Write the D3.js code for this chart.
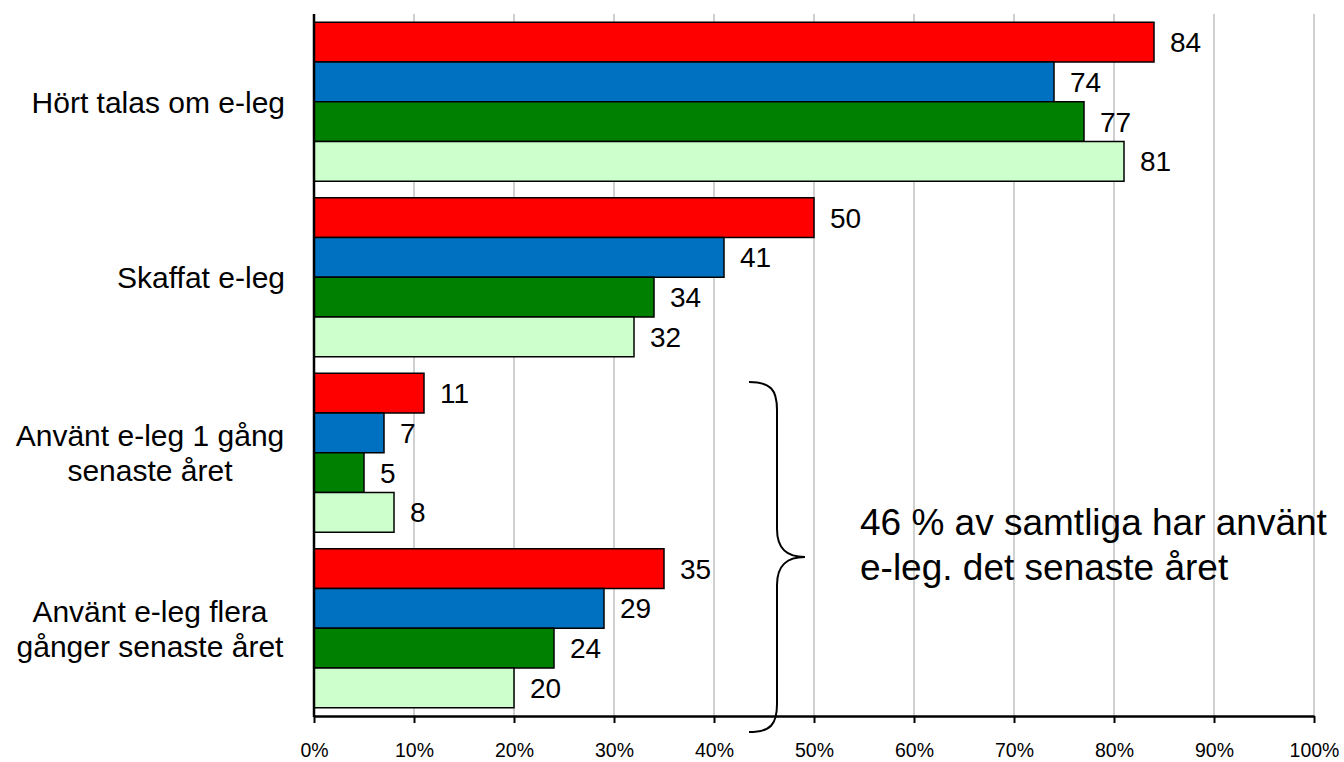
<!DOCTYPE html>
<html>
<head>
<meta charset="utf-8">
<script src="https://cdn.jsdelivr.net/npm/d3@7"></script>
<style>
  html, body { margin: 0; padding: 0; background: #fff; }
  svg { display: block; font-family: "Liberation Sans", Arial, sans-serif; }
</style>
</head>
<body>
<svg id="chart" width="1344" height="762"></svg>
<script>
// Categories (top to bottom), each may wrap to two lines
const categories = [
  ["Hört talas om e-leg"],
  ["Skaffat e-leg"],
  ["Använt e-leg 1 gång", "senaste året"],
  ["Använt e-leg flera", "gånger senaste året"]
];
const categoryKeys = categories.map(c => c.join(" "));

// Four series, drawn in this order within each category
const seriesNames = ["s1", "s2", "s3", "s4"];
const seriesColors = ["#ff0000", "#0070c0", "#008000", "#ccffcc"];
const series1 = [84, 50, 11, 35];
const series2 = [74, 41, 7, 29];
const series3 = [77, 34, 5, 24];
const series4 = [81, 32, 8, 20];
const seriesValues = [series1, series2, series3, series4];

const xTicks = [0, 10, 20, 30, 40, 50, 60, 70, 80, 90, 100];
const annotationLines = ["46 % av samtliga har använt", "e-leg. det senaste året"];

const svg = d3.select("#chart");
const plot = { left: 314, right: 1314, top: 14, bottom: 716 };

const x = d3.scaleLinear().domain([0, 100]).range([plot.left, plot.right]);
const y = d3.scaleBand().domain(categoryKeys).range([plot.top, plot.bottom])
  .paddingInner(0.094).paddingOuter(0.047);
const ySub = d3.scaleBand().domain(seriesNames).range([0, y.bandwidth()]);

// Vertical gridlines
svg.append("g")
  .selectAll("line")
  .data(xTicks.slice(1))
  .join("line")
  .attr("x1", d => x(d)).attr("x2", d => x(d))
  .attr("y1", plot.top).attr("y2", plot.bottom)
  .attr("stroke", "#c0c0c0").attr("stroke-width", 1.5);

// Bars
const groups = svg.append("g")
  .selectAll("g")
  .data(categoryKeys)
  .join("g")
  .attr("transform", d => `translate(0,${y(d)})`);

groups.each(function(cat, ci) {
  const g = d3.select(this);
  seriesNames.forEach((s, si) => {
    const v = seriesValues[si][ci];
    g.append("rect")
      .attr("x", x(0))
      .attr("y", ySub(s))
      .attr("width", x(v) - x(0))
      .attr("height", ySub.bandwidth())
      .attr("fill", seriesColors[si])
      .attr("stroke", "#000")
      .attr("stroke-width", 1.5);
    g.append("text")
      .attr("x", x(v) + 16)
      .attr("y", ySub(s) + ySub.bandwidth() / 2)
      .attr("dy", "0.36em")
      .attr("font-size", 28)
      .attr("fill", "#000")
      .text(v);
  });
});

// X axis with ticks below
const xAxis = d3.axisBottom(x).tickValues(xTicks).tickFormat(d => d + "%")
  .tickSize(7).tickSizeOuter(0).tickPadding(20);
const gx = svg.append("g")
  .attr("transform", `translate(0,${plot.bottom})`)
  .call(xAxis);
gx.select(".domain").attr("stroke", "#000").attr("stroke-width", 2.5);
gx.selectAll(".tick line").attr("stroke", "#000").attr("stroke-width", 2);
gx.selectAll(".tick text")
  .attr("font-size", 19.5)
  .attr("font-family", "'Liberation Sans', Arial, sans-serif")
  .attr("fill", "#000");

// Y axis line
svg.append("line")
  .attr("x1", plot.left).attr("x2", plot.left)
  .attr("y1", plot.top).attr("y2", plot.bottom + 1)
  .attr("stroke", "#000").attr("stroke-width", 2.5);

// Category labels: single line right-aligned, multi-line centred as a block
const labelRight = 285;
const lineH = 35;
categories.forEach((lines, i) => {
  const cy = y(categoryKeys[i]) + y.bandwidth() / 2;
  const t = svg.append("text")
    .attr("font-size", 30)
    .attr("fill", "#000");
  if (lines.length === 1) {
    t.attr("x", labelRight).attr("y", cy).attr("dy", "0.36em")
      .attr("text-anchor", "end").text(lines[0]);
  } else {
    const cx = 150;
    lines.forEach((ln, k) => {
      t.append("tspan")
        .attr("x", cx)
        .attr("y", cy + (k - (lines.length - 1) / 2) * lineH)
        .attr("dy", "0.36em")
        .attr("text-anchor", "middle")
        .text(ln);
    });
  }
});

// Curly brace spanning the two "Använt" groups
const bTop = 382, bBot = 732, bMid = 557;
const xTip = 749, xStem = 777, xPoint = 805;
const brace = d3.path();
brace.moveTo(xTip, bTop);
brace.bezierCurveTo(xTip + 22, bTop, xStem, bTop + 8, xStem, bTop + 28);
brace.lineTo(xStem, bMid - 28);
brace.bezierCurveTo(xStem, bMid - 8, xStem + 10, bMid, xPoint, bMid);
brace.bezierCurveTo(xStem + 10, bMid, xStem, bMid + 8, xStem, bMid + 28);
brace.lineTo(xStem, bBot - 28);
brace.bezierCurveTo(xStem, bBot - 8, xTip + 22, bBot, xTip, bBot);
svg.append("path")
  .attr("d", brace.toString())
  .attr("fill", "none")
  .attr("stroke", "#000")
  .attr("stroke-width", 2);

// Annotation text
const ann = svg.append("text")
  .attr("font-size", 37)
  .attr("fill", "#000");
annotationLines.forEach((ln, k) => {
  ann.append("tspan").attr("x", 860).attr("y", 535 + k * 45).text(ln);
});
</script>
</body>
</html>
